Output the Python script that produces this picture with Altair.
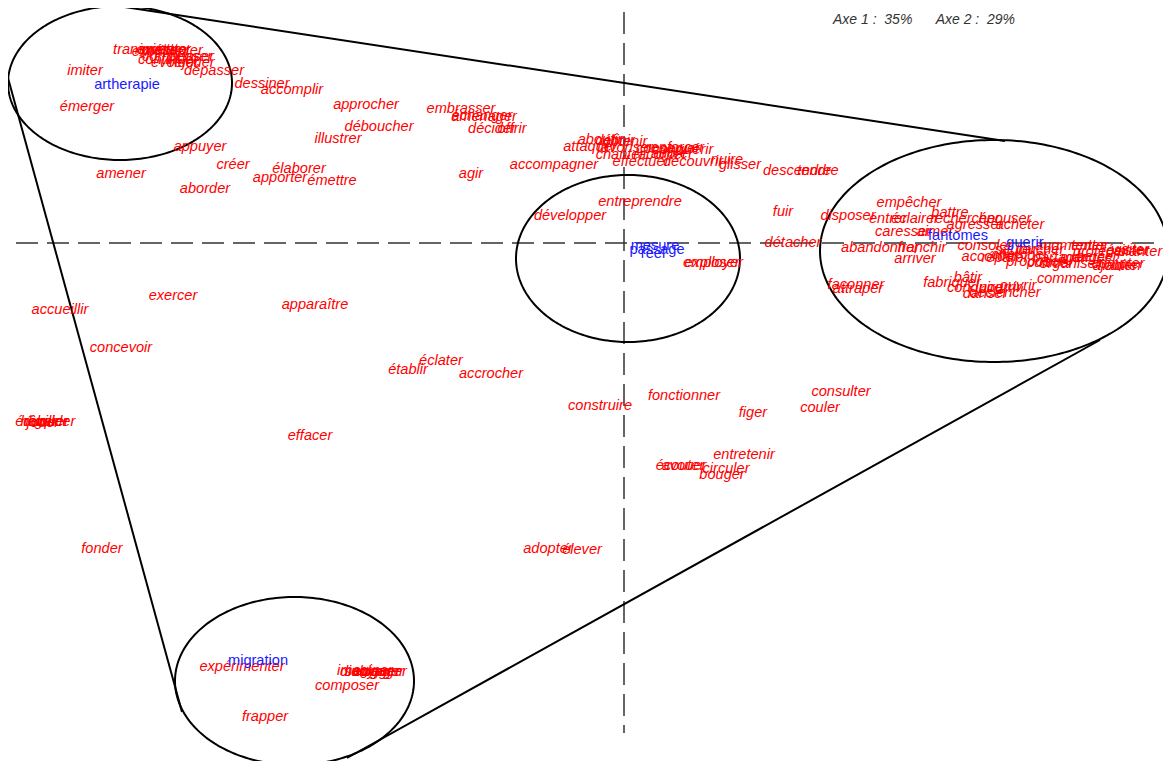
import altair as alt
import pandas as pd
import numpy as np

# ---- red labels (verbs) : Axis 1 / Axis 2 coordinates ----
red_words = [
    "transmettre", "inventer", "présenter", "exister", "penser", "compenser", "évoluer",
    "continuer", "rejouer", "exprimer", "dépasser", "imiter", "émerger", "dessiner",
    "accomplir", "appuyer", "créer", "amener", "élaborer", "apporter", "émettre", "aborder",
    "approcher", "illustrer", "déboucher", "embrasser", "échanger", "aménager", "décider",
    "offrir", "agir", "accompagner", "aboutir", "définir", "obtenir", "attaquer", "favoriser",
    "conserver", "renforcer", "conquérir", "chanter", "raconter", "adorer", "effectuer",
    "découvrir", "nuire", "glisser", "descendre", "tendre", "fuir", "entreprendre",
    "développer", "disposer", "détacher", "exploser", "employer",
    "empêcher", "battre", "entrer", "éclairer", "rechercher", "épouser", "caresser", "aimer",
    "agresser", "acheter", "abandonner", "franchir", "arriver", "accorder", "consoler",
    "résister", "visiter", "protéger", "partager", "manger", "chercher", "toucher", "sauter",
    "habiter", "ajouter", "cultiver", "organiser", "proposer", "réparer", "tenter",
    "augmenter", "bercer", "planter", "compter", "commencer", "bâtir", "fabriquer",
    "conduire", "ouvrir", "nourrir", "danser", "déclencher", "façonner", "attraper",
    "accueillir", "exercer", "apparaître", "concevoir", "éclater", "établir", "accrocher",
    "éduquer", "habiller", "rêver", "jouer", "guider", "effacer", "fonder", "construire",
    "fonctionner", "figer", "consulter", "couler", "entretenir", "écouter", "avouer",
    "circuler", "bouger", "adopter", "élever",
    "expérimenter", "composer", "frapper", "voyager", "soulager", "imaginer", "dialoguer",
    "engager",
]
red_x = [
    -4.74, -4.59, -4.52, -4.66, -4.34, -4.46, -4.49,
    -4.56, -4.32, -4.64, -4.10, -5.39, -5.37, -3.62,
    -3.32, -4.24, -3.91, -5.03, -3.25, -3.44, -2.92, -4.19,
    -2.58, -2.86, -2.45, -1.63, -1.42, -1.40, -1.32,
    -1.12, -1.53, -0.70, -0.24, -0.09, 0.01, -0.34, 0.01,
    0.44, 0.51, 0.59, -0.04, 0.36, 0.48, 0.17,
    0.69, 1.03, 1.16, 1.73, 1.94, 1.59, 0.16,
    -0.54, 2.24, 1.69, 0.88, 0.89,
    2.85, 3.26, 2.64, 2.91, 3.41, 3.81, 2.79, 3.11,
    3.51, 3.96, 2.56, 2.98, 2.91, 3.66, 3.61,
    5.01, 5.06, 4.76, 4.36, 4.61, 3.96, 4.16, 3.91,
    4.96, 4.91, 4.26, 4.46, 4.11, 3.81, 4.66,
    4.46, 4.73, 5.16, 4.94, 4.51, 3.44, 3.28,
    3.51, 3.94, 3.76, 3.61, 3.81, 2.32, 2.34,
    -5.64, -4.51, -3.09, -5.03, -1.83, -2.16, -1.33,
    -5.82, -5.80, -5.84, -5.81, -5.69, -3.14, -5.22, -0.24,
    0.60, 1.29, 2.17, 1.96, 1.20, 0.56, 0.60,
    1.02, 0.98, -0.76, -0.42,
    -3.82, -2.77, -3.59, -2.46, -2.52, -2.59, -2.54,
    -2.44,
]
red_y = [
    1.93, 1.93, 1.92, 1.93, 1.86, 1.86, 1.80,
    1.83, 1.80, 1.91, 1.72, 1.72, 1.36, 1.59,
    1.53, 0.96, 0.78, 0.69, 0.74, 0.65, 0.62, 0.54,
    1.38, 1.04, 1.16, 1.34, 1.27, 1.26, 1.14,
    1.14, 0.69, 0.78, 1.03, 1.02, 1.01, 0.96, 0.95,
    0.94, 0.95, 0.93, 0.88, 0.88, 0.89, 0.81,
    0.81, 0.83, 0.78, 0.72, 0.72, 0.31, 0.41,
    0.27, 0.27, 0.00, -0.20, -0.20,
    0.40, 0.30, 0.24, 0.24, 0.24, 0.24, 0.11, 0.11,
    0.18, 0.18, -0.05, -0.05, -0.16, -0.14, -0.03,
    -0.08, -0.07, -0.09, -0.15, -0.15, -0.12, -0.07, -0.07,
    -0.23, -0.23, -0.20, -0.21, -0.19, -0.15, -0.03,
    -0.03, -0.14, -0.09, -0.21, -0.36, -0.35, -0.40,
    -0.45, -0.43, -0.45, -0.51, -0.50, -0.42, -0.46,
    -0.67, -0.53, -0.62, -1.05, -1.18, -1.27, -1.31,
    -1.79, -1.79, -1.79, -1.80, -1.79, -1.93, -3.06, -1.63,
    -1.53, -1.70, -1.49, -1.65, -2.12, -2.23, -2.23,
    -2.26, -2.32, -3.06, -3.07,
    -4.24, -4.43, -4.74, -4.29, -4.29, -4.28, -4.29,
    -4.29,
]

# ---- blue labels (themes) ----
blue_words = ["artherapie", "migration", "fantomes", "guerir", "mesure", "passage", "reel"]
blue_x = [-4.97, -3.66, 3.34, 4.01, 0.31, 0.33, 0.29]
blue_y = [1.58, -4.18, 0.07, 0.00, -0.03, -0.07, -0.11]

# ---- group ellipses ----
ell_cx = [-5.04, 0.04, 3.70, -3.295]
ell_cy = [1.60, -0.155, -0.08, -4.38]
ell_rx = [1.12, 1.12, 1.74, 1.195]
ell_ry = [0.77, 0.835, 1.11, 0.84]

# ---- hull segments joining the ellipses ----
seg_x = [-5.06, -6.16, -2.77]
seg_y = [2.37, 1.65, -5.15]
seg_x2 = [3.81, -4.42, 4.76]
seg_y2 = [1.02, -4.69, -0.97]

# ---- dashed axes ----
axis_x = [-6.08, 0.0]
axis_y = [0.0, 2.31]
axis_x2 = [5.44, 0.0]
axis_y2 = [0.0, -4.90]

NB = "\u00a0"
title_text = "Axe 1 :" + NB * 2 + "35%" + NB * 6 + "Axe 2 :" + NB * 2 + "29%"

XD = [-6.16, 5.39]
YD = [-5.18, 2.35]
xs = alt.Scale(domain=XD, nice=False, zero=False)
ys = alt.Scale(domain=YD, nice=False, zero=False)

red_df = pd.DataFrame({"w": red_words, "x": red_x, "y": red_y})
blue_df = pd.DataFrame({"w": blue_words, "x": blue_x, "y": blue_y})

rows = []
t = np.linspace(0, 2 * np.pi, 241)
for i in range(len(ell_cx)):
    for k, a in enumerate(t):
        rows.append({"id": i, "k": k,
                     "x": ell_cx[i] + ell_rx[i] * np.cos(a),
                     "y": ell_cy[i] + ell_ry[i] * np.sin(a)})
ell_df = pd.DataFrame(rows)

seg_df = pd.DataFrame({"x": seg_x, "y": seg_y, "x2": seg_x2, "y2": seg_y2})
ax_df = pd.DataFrame({"x": axis_x, "y": axis_y, "x2": axis_x2, "y2": axis_y2})
title_df = pd.DataFrame({"w": [title_text], "x": [3.0], "y": [2.23]})

axes = alt.Chart(ax_df).mark_rule(color="#333333", strokeWidth=1.5, strokeDash=[22, 9]).encode(
    x=alt.X("x:Q", scale=xs, axis=None), y=alt.Y("y:Q", scale=ys, axis=None),
    x2="x2:Q", y2="y2:Q")

segs = alt.Chart(seg_df).mark_rule(color="black", strokeWidth=2).encode(
    x=alt.X("x:Q", scale=xs, axis=None), y=alt.Y("y:Q", scale=ys, axis=None),
    x2="x2:Q", y2="y2:Q")

ells = alt.Chart(ell_df).mark_line(color="black", strokeWidth=2).encode(
    x=alt.X("x:Q", scale=xs, axis=None), y=alt.Y("y:Q", scale=ys, axis=None),
    detail="id:N", order="k:Q")

red = alt.Chart(red_df).mark_text(color="#ff0000", font="Liberation Sans", fontSize=14.6,
                                  fontStyle="italic", align="center", baseline="middle").encode(
    x=alt.X("x:Q", scale=xs, axis=None), y=alt.Y("y:Q", scale=ys, axis=None), text="w:N")

blue = alt.Chart(blue_df).mark_text(color="#1a1aff", font="Liberation Sans", fontSize=14.6,
                                    align="center", baseline="middle").encode(
    x=alt.X("x:Q", scale=xs, axis=None), y=alt.Y("y:Q", scale=ys, axis=None), text="w:N")

ttl = alt.Chart(title_df).mark_text(color="#333333", font="Liberation Sans", fontSize=14,
                                    fontStyle="italic", align="center", baseline="middle").encode(
    x=alt.X("x:Q", scale=xs, axis=None), y=alt.Y("y:Q", scale=ys, axis=None), text="w:N")

chart = alt.layer(axes, segs, ells, red, blue, ttl).properties(
    width=1155, height=753, padding=0,
    autosize=alt.AutoSizeParams(type="none"),
    background="white",
).configure_view(stroke=None)

chart.save("out.html", embed_options={"renderer": "svg", "actions": False})
